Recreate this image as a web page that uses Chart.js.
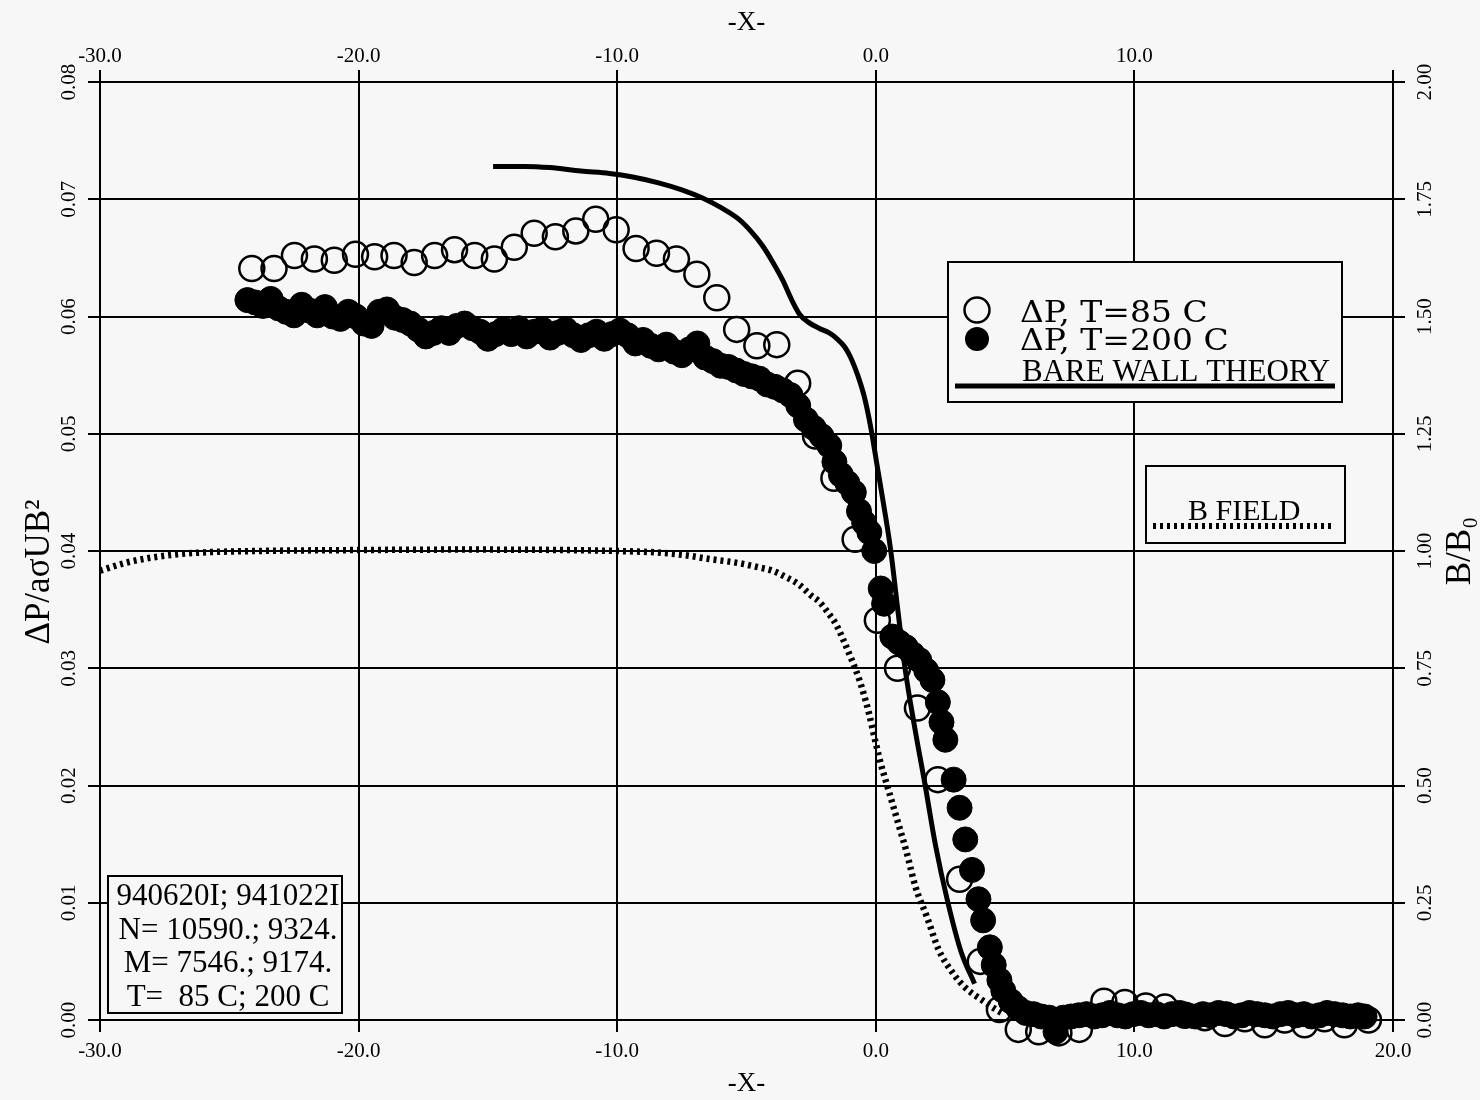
<!DOCTYPE html>
<html>
<head>
<meta charset="utf-8">
<title>Pressure drop along the wall</title>
<script src="https://cdn.jsdelivr.net/npm/chart.js@4.4.1/dist/chart.umd.min.js"></script>
<style>
  body { margin: 0; background: #f7f7f7; }
  #wrap { width: 1480px; height: 1100px; }
</style>
</head>
<body>
<div id="wrap"><canvas id="chart" width="1480" height="1100"></canvas></div>
<script>
/* ---------------------------------------------------
   data
----------------------------------------------------- */
// dP, T=85 C (open circles)
var coldX = [-24.13, -23.27, -22.48, -21.71, -20.94, -20.12, -19.38, -18.63, -17.85, -17.06,
             -16.29, -15.51, -14.75, -13.98, -13.21, -12.39, -11.60, -10.83, -10.04, -9.27,
             -8.48, -7.71, -6.92, -6.15, -5.38, -4.60, -3.83, -3.02, -2.33, -1.62,
             -0.80, 0.06, 0.84, 1.61, 2.40, 3.24, 4.04, 4.78, 5.51, 6.30,
             7.08, 7.87, 8.82, 9.63, 10.44, 11.18, 11.95, 12.72, 13.50, 14.27,
             15.04, 15.81, 16.58, 17.35, 18.12, 19.05];
var coldY = [0.0641, 0.0641, 0.0652, 0.0649, 0.0648, 0.0653, 0.0651, 0.0652, 0.0646, 0.0652,
             0.0657, 0.0652, 0.0649, 0.0659, 0.0671, 0.0668, 0.0673, 0.0683, 0.0674, 0.0658,
             0.0654, 0.0649, 0.0636, 0.0616, 0.0589, 0.0575, 0.0576, 0.0543, 0.0498, 0.0462,
             0.0410, 0.0341, 0.0300, 0.0266, 0.0205, 0.0120, 0.0050, 0.0009, -0.0008, -0.0010,
             -0.0011, -0.0008, 0.0016, 0.0015, 0.0012, 0.0011, 0.0004, 0.0002, -0.0003, 0.0001,
             -0.0004, 0.0000, -0.0004, 0.0001, -0.0004, 0.0000];

// dP, T=200 C (filled circles)
var hotX = [-24.3, -24.0, -23.7, -23.4, -23.1, -22.8, -22.5, -22.2, -21.9, -21.6,
            -21.3, -21.0, -20.7, -20.4, -20.1, -19.8, -19.5, -19.2, -18.9, -18.6,
            -18.3, -18.0, -17.7, -17.4, -17.1, -16.8, -16.5, -16.2, -15.9, -15.6,
            -15.3, -15.0, -14.7, -14.4, -14.1, -13.8, -13.5, -13.2, -12.9, -12.6,
            -12.3, -12.0, -11.7, -11.4, -11.1, -10.8, -10.5, -10.2, -9.9, -9.6,
            -9.3, -9.0, -8.7, -8.4, -8.1, -7.8, -7.5, -7.2, -6.9, -6.6,
            -6.3, -6.0, -5.7, -5.4, -5.1, -4.8, -4.5, -4.2, -3.9, -3.6,
            -3.3, -3.0, -2.7, -2.4, -2.1, -1.8, -1.6, -1.35, -1.1, -0.85,
            -0.65, -0.45, -0.25, -0.06, 0.19, 0.32, 0.64, 0.90, 1.16, 1.42,
            1.68, 1.95, 2.19, 2.40, 2.54, 2.69, 3.01, 3.24, 3.46, 3.72,
            3.97, 4.15, 4.41, 4.56, 4.78, 4.93, 5.22, 5.50, 5.80, 6.10,
            6.40, 6.70, 6.95, 7.25, 7.55, 7.85, 8.15, 8.45, 8.75, 9.05,
            9.35, 9.65, 9.95, 10.25, 10.55, 10.85, 11.15, 11.45, 11.75, 12.05,
            12.35, 12.65, 12.95, 13.25, 13.55, 13.85, 14.15, 14.45, 14.75, 15.05,
            15.35, 15.65, 15.95, 16.25, 16.55, 16.85, 17.15, 17.45, 17.75, 18.05,
            18.35, 18.65, 18.90];
var hotY = [0.0614, 0.0612, 0.0609, 0.0615, 0.0607, 0.0604, 0.0601, 0.0610, 0.0605, 0.0601,
            0.0608, 0.0600, 0.0598, 0.0604, 0.0600, 0.0594, 0.0592, 0.0604, 0.0606, 0.0599,
            0.0597, 0.0594, 0.0589, 0.0583, 0.0586, 0.0590, 0.0586, 0.0592, 0.0594, 0.0590,
            0.0587, 0.0581, 0.0585, 0.0589, 0.0585, 0.0590, 0.0583, 0.0587, 0.0589, 0.0582,
            0.0586, 0.0589, 0.0584, 0.0580, 0.0584, 0.0587, 0.0581, 0.0585, 0.0588, 0.0584,
            0.0577, 0.0580, 0.0575, 0.0572, 0.0576, 0.0570, 0.0567, 0.0572, 0.0577, 0.0565,
            0.0562, 0.0558, 0.0557, 0.0554, 0.0551, 0.0549, 0.0547, 0.0542, 0.0540, 0.0537,
            0.0533, 0.0524, 0.0512, 0.0505, 0.0498, 0.0490, 0.0476, 0.0465, 0.0458, 0.0450,
            0.0434, 0.0424, 0.0416, 0.0400, 0.0368, 0.0355, 0.0327, 0.0322, 0.0318, 0.0312,
            0.0307, 0.0298, 0.0290, 0.0271, 0.0254, 0.0239, 0.0205, 0.0181, 0.0154, 0.0128,
            0.0103, 0.0085, 0.0062, 0.0047, 0.0034, 0.0025, 0.0016, 0.0010, 0.0006, 0.0005,
            0.0003, 0.0002, -0.0010, 0.0002, 0.0003, 0.0004, 0.0005, 0.0003, 0.0004, 0.0006,
            0.0004, 0.0003, 0.0005, 0.0006, 0.0004, 0.0005, 0.0003, 0.0005, 0.0006, 0.0004,
            0.0003, 0.0005, 0.0004, 0.0006, 0.0005, 0.0003, 0.0004, 0.0006, 0.0005, 0.0004,
            0.0003, 0.0005, 0.0006, 0.0004, 0.0005, 0.0003, 0.0004, 0.0006, 0.0005, 0.0004,
            0.0003, 0.0004, 0.0003];

// bare wall theory
var theoryX = [-14.8, -13.6, -12.6, -11.4, -10.3, -9.4, -8.4, -7.5, -6.7, -6.0,
               -5.3, -4.8, -4.4, -4.0, -3.6, -3.25, -2.95, -2.6, -2.2, -1.8,
               -1.5, -1.2, -0.95, -0.7, -0.45, -0.2, 0.08, 0.3, 0.58, 0.85,
               1.13, 1.5, 1.91, 2.3, 2.79, 3.3, 3.82];
var theoryY = [0.0728, 0.0728, 0.0727, 0.0724, 0.0722, 0.0719, 0.0714, 0.0708, 0.0701, 0.0693,
               0.0683, 0.0672, 0.0661, 0.0647, 0.0631, 0.0614, 0.0602, 0.0595, 0.0590, 0.0586,
               0.0581, 0.0574, 0.0564, 0.0550, 0.0532, 0.0506, 0.0469, 0.0440, 0.0400, 0.0350,
               0.0300, 0.0250, 0.0200, 0.0150, 0.0100, 0.0058, 0.0031];

// B/B0 (right axis)
var bfieldX = [-30.0, -29.0, -28.0, -27.0, -26.0, -24.0, -20.0, -16.0, -12.0, -10.0,
               -8.5, -7.5, -6.44, -5.28, -4.6, -4.0, -3.5, -2.96, -2.5, -2.19,
               -1.8, -1.55, -1.03, -0.64, -0.44, -0.26, 0.0, 0.2, 0.44, 0.81,
               1.18, 1.54, 1.99, 2.43, 3.01, 3.46, 4.04, 4.63, 4.93];
var bfieldY = [0.958, 0.975, 0.986, 0.993, 0.997, 1.000, 1.002, 1.003, 1.002, 1.000,
               0.997, 0.992, 0.983, 0.974, 0.966, 0.958, 0.945, 0.928, 0.905, 0.892,
               0.865, 0.845, 0.781, 0.726, 0.690, 0.653, 0.590, 0.545, 0.500, 0.430,
               0.360, 0.283, 0.218, 0.150, 0.098, 0.069, 0.045, 0.023, 0.013];

var runInfo = ['940620I; 941022I', 'N= 10590.; 9324.', 'M= 7546.; 9174.', 'T=  85 C; 200 C'];

function pairs(xs, ys)
{
	var out = [];
	for (var i = 0; i < xs.length; i++) {
		out.push({x: xs[i], y: ys[i]});
	}
	return out;
}

/* ---------------------------------------------------
   boxes, side titles
----------------------------------------------------- */
var BG = '#f7f7f7';
var serif = '"Liberation Serif", "Times New Roman", serif';

// text stretched sideways a little, the key uses a wide face
function wideText(c, txt, x, y, sx)
{
	c.save();
	c.translate(x, y);
	c.scale(sx, 1);
	c.fillText(txt, 0, 0);
	c.restore();
}

var overlay = {
	id: 'overlay',
	afterDraw: function (chart) {
		var c = chart.ctx;
		var area = chart.chartArea;
		c.save();
		c.fillStyle = '#000';
		c.strokeStyle = '#000';

		// side titles, both reading upward
		c.textAlign = 'center';
		c.textBaseline = 'middle';
		c.font = '35px ' + serif;
		c.save();
		c.translate(40, 572);
		c.rotate(-Math.PI / 2);
		c.fillText('ΔP/aσUB²', 0, 0);
		c.restore();
		c.save();
		c.translate(1461, (area.top + area.bottom) / 2);
		c.rotate(-Math.PI / 2);
		c.fillText('B/B₀', 0, 0);
		c.restore();

		// series key
		c.lineWidth = 2;
		c.fillStyle = BG;
		c.fillRect(948, 262, 394, 140);
		c.strokeRect(948, 262, 394, 140);
		c.beginPath();
		c.lineWidth = 2.5;
		c.arc(977, 310, 12.5, 0, Math.PI * 2);
		c.stroke();
		c.beginPath();
		c.fillStyle = '#000';
		c.arc(977, 339, 12, 0, Math.PI * 2);
		c.fill();
		c.textAlign = 'left';
		c.textBaseline = 'alphabetic';
		c.font = '30px "DejaVu Serif", serif';
		wideText(c, 'ΔP, T=85 C', 1020, 322, 1.1);
		wideText(c, 'ΔP, T=200 C', 1020, 350, 1.1);
		c.font = '31px ' + serif;
		c.fillText('BARE WALL THEORY', 1022, 381);
		c.beginPath();
		c.lineWidth = 5;
		c.moveTo(955, 386);
		c.lineTo(1335, 386);
		c.stroke();

		c.lineWidth = 2;
		c.fillStyle = BG;
		c.fillRect(1146, 466, 199, 77);
		c.strokeRect(1146, 466, 199, 77);
		c.fillStyle = '#000';
		c.font = '30px ' + serif;
		c.fillText('B FIELD', 1188, 520);
		c.beginPath();
		c.lineWidth = 6;
		c.setLineDash([3, 4]);
		c.moveTo(1153, 526);
		c.lineTo(1333, 526);
		c.stroke();
		c.setLineDash([]);

		// run info
		c.lineWidth = 2;
		c.fillStyle = BG;
		c.fillRect(108, 876, 234, 137);
		c.strokeRect(108, 876, 234, 137);
		c.fillStyle = '#000';
		c.textAlign = 'center';
		c.textBaseline = 'middle';
		c.font = '31px ' + serif;
		for (var i = 0; i < runInfo.length; i++) {
			c.fillText(runInfo[i], 228, 897 + i * 33.5);
		}
		c.restore();
	}
};

/* ---------------------------------------------------
   chart
----------------------------------------------------- */
var tickFont = { family: serif, size: 21 };
var gridStyle = { color: '#000', lineWidth: 2, tickLength: 12, tickColor: '#000' };
var borderStyle = { color: '#000', width: 2 };

function xTicks(v) { return v.toFixed(1); }

var ctxC = document.getElementById('chart').getContext('2d');
var chart = new Chart(ctxC, {
	type: 'scatter',
	data: {
		datasets: [{
			label: 'BARE WALL THEORY',
			data: pairs(theoryX, theoryY),
			showLine: true,
			borderColor: '#000',
			borderWidth: 5,
			pointRadius: 0,
			cubicInterpolationMode: 'monotone',
			yAxisID: 'y',
			clip: false,
			order: 0
		}, {
			label: 'B FIELD',
			data: pairs(bfieldX, bfieldY),
			showLine: true,
			borderColor: '#000',
			borderWidth: 6.5,
			borderDash: [3, 4],
			borderCapStyle: 'butt',
			pointRadius: 0,
			cubicInterpolationMode: 'monotone',
			yAxisID: 'y1',
			clip: false,
			order: 1
		}, {
			label: 'ΔP, T=200 C',
			data: pairs(hotX, hotY),
			pointRadius: 12.5,
			pointBackgroundColor: '#000',
			pointBorderColor: '#000',
			pointBorderWidth: 1,
			yAxisID: 'y',
			clip: false,
			order: 2
		}, {
			label: 'ΔP, T=85 C',
			data: pairs(coldX, coldY),
			pointRadius: 12.5,
			pointBackgroundColor: 'rgba(0,0,0,0)',
			pointBorderColor: '#000',
			pointBorderWidth: 2.5,
			yAxisID: 'y',
			clip: false,
			order: 3
		}]
	},
	options: {
		responsive: false,
		animation: false,
		layout: { padding: 0 },
		plugins: {
			legend: { display: false },
			tooltip: { enabled: false }
		},
		scales: {
			x: {
				type: 'linear', position: 'bottom', min: -30, max: 20,
				ticks: { stepSize: 10, callback: xTicks, font: tickFont, color: '#000', padding: 7, maxRotation: 0 },
				grid: gridStyle, border: borderStyle,
				title: { display: true, text: '-X-', color: '#000', font: { family: serif, size: 27 }, padding: { top: 0, bottom: 0 } },
				afterFit: function (s) { s.height = 80; }
			},
			x2: {
				type: 'linear', position: 'top', min: -30, max: 20,
				ticks: { stepSize: 10, font: tickFont, color: '#000', padding: 1, maxRotation: 0,
					callback: function (v) { return v === 20 ? '' : v.toFixed(1); } },
				grid: { color: '#000', lineWidth: 2, tickLength: 12, drawOnChartArea: false },
				border: borderStyle,
				title: { display: true, text: '-X-', color: '#000', font: { family: serif, size: 27 }, padding: { top: 7, bottom: 0 } },
				afterFit: function (s) { s.height = 82; }
			},
			y: {
				type: 'linear', position: 'left', min: 0, max: 0.08,
				ticks: { stepSize: 0.01, font: tickFont, color: '#000', padding: 0, autoSkip: false,
					minRotation: 90, maxRotation: 90, crossAlign: 'center',
					callback: function (v) { return v.toFixed(2); } },
				grid: gridStyle, border: borderStyle,
				afterFit: function (s) { s.width = 100; }
			},
			y1: {
				type: 'linear', position: 'right', min: 0, max: 2,
				ticks: { stepSize: 0.25, font: tickFont, color: '#000', padding: 2, autoSkip: false,
					minRotation: 90, maxRotation: 90, crossAlign: 'center',
					callback: function (v) { return v.toFixed(2); } },
				grid: { color: '#000', lineWidth: 2, tickLength: 12, drawOnChartArea: false },
				border: borderStyle,
				afterFit: function (s) { s.width = 87; }
			}
		}
	},
	plugins: [overlay]
});
</script>
</body>
</html>
